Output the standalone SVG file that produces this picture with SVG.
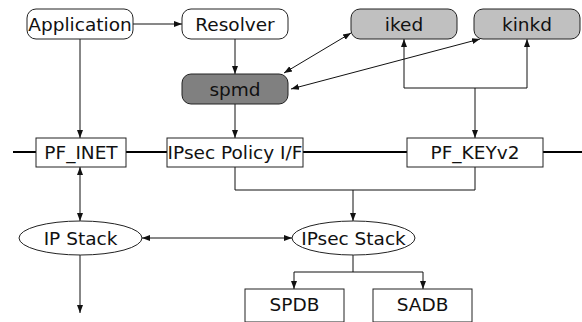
<svg xmlns="http://www.w3.org/2000/svg" width="582" height="322" viewBox="0 0 582 322">
<style>
.box{stroke:#222;stroke-width:1;fill:#fff}
.t{font-family:"DejaVu Sans",Verdana,sans-serif;font-size:18.5px;fill:#111;text-anchor:middle}
.c{stroke:#111;stroke-width:1;fill:none}
.bus{stroke:#000;stroke-width:2;fill:none}
</style>
<defs>
<marker id="ah" viewBox="0 0 8 8" refX="8" refY="4" markerWidth="8" markerHeight="8" markerUnits="userSpaceOnUse" orient="auto-start-reverse">
<path d="M0,1 L8,4 L0,7 z" fill="#111"/>
</marker>
</defs>
<rect width="582" height="322" fill="#fff"/>
<g id="connectors">
<line class="bus" x1="13" y1="152" x2="582" y2="152"/>
<line class="c" x1="133" y1="24" x2="182" y2="24" marker-end="url(#ah)"/>
<line class="c" x1="235" y1="39" x2="235" y2="74" marker-end="url(#ah)"/>
<line class="c" x1="80" y1="39" x2="80" y2="138" marker-end="url(#ah)"/>
<line class="c" x1="235" y1="104" x2="235" y2="138" marker-end="url(#ah)"/>
<line class="c" x1="351" y1="33" x2="284" y2="73" marker-start="url(#ah)" marker-end="url(#ah)"/>
<line class="c" x1="480" y1="39" x2="291" y2="89" marker-start="url(#ah)" marker-end="url(#ah)"/>
<polyline class="c" points="404,39 404,88 527,88 527,39" marker-start="url(#ah)" marker-end="url(#ah)"/>
<line class="c" x1="475" y1="88" x2="475" y2="138" marker-end="url(#ah)"/>
<polyline class="c" points="235,167 235,190 475,190 475,167"/>
<line class="c" x1="353" y1="190" x2="353" y2="221" marker-end="url(#ah)"/>
<line class="c" x1="80" y1="167" x2="80" y2="221" marker-start="url(#ah)" marker-end="url(#ah)"/>
<line class="c" x1="142" y1="238" x2="292" y2="238" marker-start="url(#ah)" marker-end="url(#ah)"/>
<line class="c" x1="80" y1="255" x2="80" y2="313" marker-end="url(#ah)"/>
<line class="c" x1="353" y1="255" x2="353" y2="272"/>
<polyline class="c" points="294,289 294,272 423,272 423,289" marker-start="url(#ah)" marker-end="url(#ah)"/>
</g>
<g id="application"><rect class="box" x="27" y="9" width="106" height="30" rx="9"/><text class="t" x="80" y="30.5">Application</text></g>
<g id="resolver"><rect class="box" x="182" y="9" width="106" height="30" rx="9"/><text class="t" x="235" y="30.5">Resolver</text></g>
<g id="iked"><rect class="box" x="351" y="9" width="106" height="30" rx="9" style="fill:#c0c0c0"/><text class="t" x="404" y="30.5">iked</text></g>
<g id="kinkd"><rect class="box" x="474" y="9" width="106" height="30" rx="9" style="fill:#c0c0c0"/><text class="t" x="527" y="30.5">kinkd</text></g>
<g id="spmd"><rect class="box" x="182" y="74" width="106" height="30" rx="9" style="fill:#808080"/><text class="t" x="235" y="95.5">spmd</text></g>
<g id="pf_inet"><rect class="box" x="36" y="138" width="90" height="29"/><text class="t" x="81" y="159">PF_INET</text></g>
<g id="ipsec_policy"><rect class="box" x="167" y="138" width="136" height="29"/><text class="t" x="235" y="159">IPsec Policy I/F</text></g>
<g id="pf_keyv2"><rect class="box" x="407" y="138" width="136" height="29"/><text class="t" x="475" y="159">PF_KEYv2</text></g>
<g id="ip_stack"><ellipse class="box" cx="80.5" cy="238" rx="61.5" ry="17"/><text class="t" x="80.5" y="244.5">IP Stack</text></g>
<g id="ipsec_stack"><ellipse class="box" cx="353.5" cy="238" rx="61.5" ry="17"/><text class="t" x="353.5" y="244.5">IPsec Stack</text></g>
<g id="spdb"><rect class="box" x="245" y="289" width="99" height="33"/><text class="t" x="294.5" y="311">SPDB</text></g>
<g id="sadb"><rect class="box" x="373" y="289" width="99" height="33"/><text class="t" x="422.5" y="311">SADB</text></g>
</svg>
